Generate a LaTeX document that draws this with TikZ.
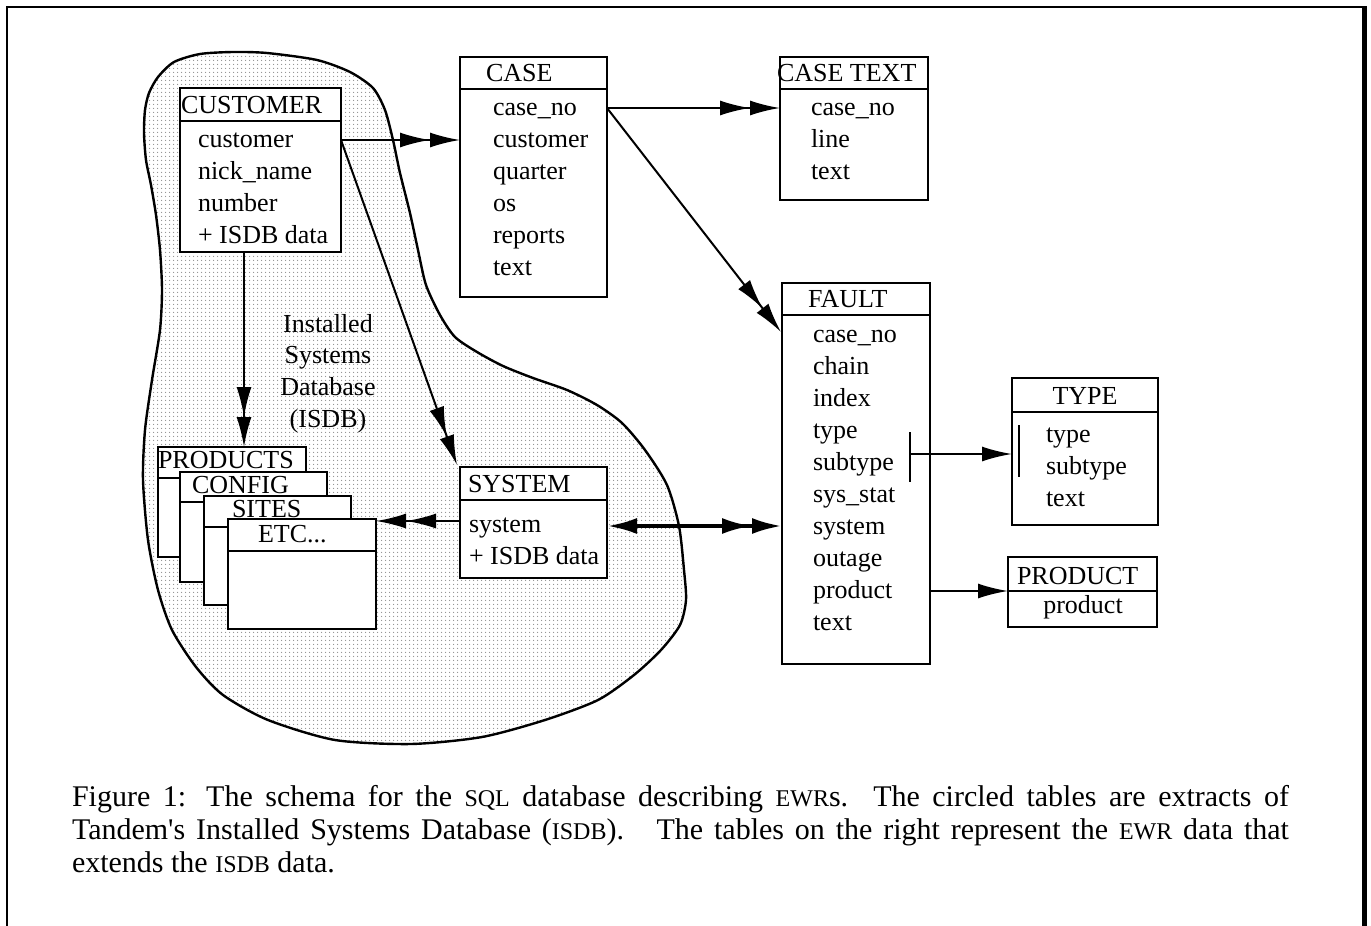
\documentclass[tikz,border=0pt]{standalone}
\usepackage{fontspec}
\setmainfont{Liberation Serif}
\usetikzlibrary{arrows.meta,patterns.meta}
\newcommand\fs{\fontsize{13}{16}\selectfont}
\newcommand\capfs{\fontsize{15}{16.5}\selectfont}
\newcommand\fsc[1]{{\fontsize{12}{16}\selectfont #1}}
\tikzdeclarepattern{
  name=finedots,
  type=uncolored,
  bottom left={(0pt,0pt)},
  top right={(2pt,2pt)},
  tile size={(2pt,2pt)},
  code={\fill (1pt,1pt) circle (0.4pt);}
}
\newcommand\tbox[5]{% x1 y1 x2 y2 yheader
  \draw[tbl] (#1,#2) rectangle (#3,#4);
  \draw[hdr] (#1,#5) -- (#3,#5);
}
\begin{document}
\begin{tikzpicture}[x=0.5pt,y=-0.5pt,
  every node/.style={inner sep=0pt, outer sep=0pt, font=\fs},
  tbl/.style={draw=black, line width=1.3pt, fill=white},
  hdr/.style={line width=1.3pt},
  fld/.style={anchor=base west},
  capt/.style={anchor=base west, font=\capfs},
  conn/.style={line width=1pt},
  one/.style={conn,-{Latex[length=15pt,width=7.5pt]}},
  many/.style={conn,-{Latex[length=15pt,width=7.5pt]Latex[length=15pt,width=7.5pt]}},
]
\useasboundingbox (0,0) rectangle (1371,926);
% frame
\draw[line width=1.2pt] (7,930) -- (7,7) -- (1365,7);
\draw[line width=2.5pt] (1364,6) -- (1364,930);
% blob
\draw[line width=1.2pt, pattern=finedots, pattern color=black!45]
  plot[smooth cycle, tension=0.45] coordinates {
  (233,52) (267,53) (317,60) (350,72) (373,88) (385,110) (393,140) (400,173)
  (410,213) (418,250) (426,285) (440,315) (455,337) (477,352) (503,366)
  (533,378) (567,390) (597,405) (622,423) (645,450) (667,485) (679,526)
  (684,570) (686,600) (680,625) (661,650) (634,675) (598,700) (545,720)
  (482,737) (411,744) (335,740) (268,720) (223,695) (196,667) (172,630)
  (158,590) (148,540) (143,480) (145,430) (152,380) (160,330) (162,290)
  (160,250) (156,215) (151,185) (146,160) (144,133) (145,110) (149,93)
  (158,77) (174,62) (200,54)};
% ISDB label
\node[anchor=base] (isdb1) at (328,332) {Installed};
\node[anchor=base] (isdb2) at (328,363) {Systems};
\node[anchor=base] (isdb3) at (328,395) {Database};
\node[anchor=base] (isdb4) at (328,427) {(ISDB)};
% CUSTOMER
\tbox{180}{88}{341}{252}{121}
\node[fld] (cust) at (181,113) {CUSTOMER};
\foreach \t [count=\i] in {customer, nick\_name, number, + ISDB data}
  \node[fld] (cust-f\i) at (198,{115+32*\i}) {\t};
% CASE
\tbox{460}{57}{607}{297}{89}
\node[fld] (case) at (486,81) {CASE};
\foreach \t [count=\i] in {case\_no, customer, quarter, os, reports, text}
  \node[fld] (case-f\i) at (493,{83+32*\i}) {\t};
% CASE TEXT
\tbox{780}{57}{928}{200}{89}
\node[fld] (ctext) at (777,81) {CASE TEXT};
\foreach \t [count=\i] in {case\_no, line, text}
  \node[fld] (ctext-f\i) at (811,{83+32*\i}) {\t};
% FAULT
\tbox{782}{283}{930}{664}{315}
\node[fld] (fault) at (808,307) {FAULT};
\foreach \t [count=\i] in {case\_no, chain, index, type, subtype, sys\_stat, system, outage, product, text}
  \node[fld] (fault-f\i) at (813,{310+32*\i}) {\t};
% TYPE
\tbox{1012}{378}{1158}{525}{412}
\node[anchor=base] (type) at (1085,404) {TYPE};
\foreach \t [count=\i] in {type, subtype, text}
  \node[fld] (type-f\i) at (1046,{410+32*\i}) {\t};
% PRODUCT
\tbox{1008}{557}{1157}{627}{591}
\node[fld] (product) at (1017,584) {PRODUCT};
\node[anchor=base] (product-f1) at (1083,613) {product};
% SYSTEM
\tbox{460}{467}{607}{578}{500}
\node[fld] (system) at (468,492) {SYSTEM};
\node[fld] (system-f1) at (469,532) {system};
\node[fld] (system-f2) at (469,564) {+ ISDB data};
% stack
\tbox{158}{447}{306}{557}{478}
\node[fld] (products) at (158,468) {PRODUCTS};
\tbox{180}{472}{327}{582}{502}
\node[fld] (config) at (192,493) {CONFIG};
\tbox{204}{496}{351}{605}{527}
\node[fld] (sites) at (232,517) {SITES};
\tbox{228}{519}{376}{629}{551}
\node[fld] (etc) at (258,542) {ETC...};
% connectors
\coordinate (cust-r) at (341,140);
\coordinate (case-l) at (460,140);
\coordinate (sys-t) at (457,465);
\coordinate (cust-b) at (244,252);
\coordinate (prod-t) at (244,447);
\coordinate (case-r) at (607,108);
\coordinate (ctext-l) at (780,108);
\coordinate (fault-in) at (781,332);
\coordinate (sys-l) at (460,521);
\coordinate (etc-r) at (376,521);
\coordinate (sys-r) at (607,526);
\coordinate (fault-l) at (782,526);
\coordinate (fault-sub) at (910,454);
\coordinate (type-l) at (1012,454);
\coordinate (fault-prod) at (930,591);
\coordinate (prod-l) at (1008,591);
\draw[many] (cust-r) -- (case-l);
\draw[many] (cust-r) -- (sys-t);
\draw[many] (cust-b) -- (prod-t);
\draw[many] (case-r) -- (ctext-l);
\draw[many] (case-r) -- (fault-in);
\draw[many] (sys-l) -- (etc-r);
\draw[line width=2pt, {Latex[length=15pt,width=8pt]}-{Latex[length=15pt,width=8pt]Latex[length=15pt,width=8pt]}] (sys-r) -- (fault-l);
\draw[one] (fault-sub) -- (type-l);
\draw[conn] (910,432) -- (910,482);
\draw[conn] (1019,425) -- (1019,477);
\draw[one] (fault-prod) -- (prod-l);
% caption
\node[capt] (cap1) at (72,806) {\makebox[608.5pt][s]{Figure 1: The schema for the \fsc{SQL} database describing \fsc{EWR}s.\ \ The circled tables are extracts of}};
\node[capt] (cap2) at (72,839) {\makebox[608.5pt][s]{Tandem\textquotesingle s Installed Systems Database (\fsc{ISDB}).\ \ \ The tables on the right represent the \fsc{EWR} data that}};
\node[capt] (cap3) at (72,872) {extends the \fsc{ISDB} data.};
\end{tikzpicture}
\end{document}
